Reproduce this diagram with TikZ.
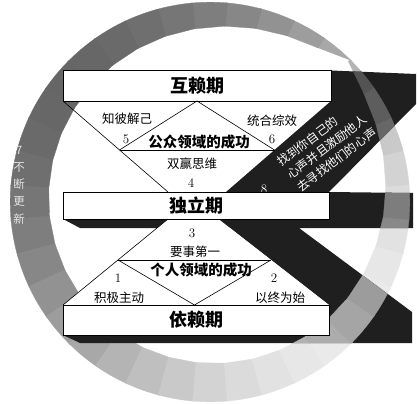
\documentclass[tikz,border=0pt]{standalone}
\usepackage{fontspec}
\newfontfamily\cjk{Noto Sans CJK SC}
\begin{document}
\begin{tikzpicture}[x=1pt,y=1pt,
  box/.style={draw=black, line width=0.8pt, fill=white, inner sep=0pt},
  thinline/.style={draw=black, line width=0.6pt},
  darkfill/.style={fill=black!88},
  lab/.style={font=\cjk\fontsize{12.5}{14}\selectfont, inner sep=0pt},
  num/.style={font=\fontsize{13}{14}\selectfont, inner sep=0pt},
  title/.style={font=\cjk\bfseries\fontsize{18}{20}\selectfont},
  dom/.style={font=\cjk\bfseries\fontsize{14.5}{16}\selectfont, inner sep=0pt},
]
\useasboundingbox (0,0) rectangle (418,-404);

% ---- ring (sharpen the saw): segments with listed greys ----
\begin{scope}[shift={(210,-202)}]
\foreach \a/\gv in {45/0.66,55/0.615,65/0.571,75/0.53,85/0.493,95/0.461,105/0.435,115/0.416,
  125/0.404,135/0.40,145/0.404,155/0.416,165/0.435,175/0.461,185/0.493,195/0.53,205/0.571,
  215/0.615,225/0.66,235/0.705,245/0.749,255/0.79,265/0.827,275/0.859,285/0.885,295/0.904,
  305/0.916,315/0.92,325/0.916,335/0.904,345/0.885,355/0.859,365/0.827,375/0.79,385/0.749,395/0.705} {
  \pgfmathsetmacro\ra{200-40*sqrt(abs(sin((\a-45)/2)))}
  \pgfmathsetmacro\rb{200-40*sqrt(abs(sin((\a-34.5)/2)))}
  \definecolor{ringc}{gray}{\gv}
  \fill[ringc, draw=ringc, line width=0.3pt] ({\a}:199.8) arc[start angle=\a, delta angle=10.5, radius=199.8]
    -- ({\a+10.5}:\rb) -- ({\a}:\ra) -- cycle;
}
\end{scope}

% ---- dark Z ribbon ----
\fill[darkfill] (331,-70.5) -- (416,-74) -- (416,-104) -- (329,-192) -- (226,-192) -- (331,-101) -- cycle;
\fill[darkfill] (63,-219) -- (329,-219) -- (329,-192) -- (413,-193) -- (413,-228) -- (299,-228)
  -- (412,-312) -- (412,-343) -- (80,-343) -- (63,-335) -- (329,-335) -- (329,-305)
  -- (230,-228) -- (80,-228) -- cycle;

% ring seen over the dark ribbon
\begin{scope}
\clip (331,-70.5) -- (416,-74) -- (416,-104) -- (329,-192) -- (226,-192) -- (331,-101) -- cycle
  (63,-219) -- (329,-219) -- (329,-192) -- (413,-193) -- (413,-228) -- (299,-228)
  -- (412,-312) -- (412,-343) -- (80,-343) -- (63,-335) -- (329,-335) -- (329,-305)
  -- (230,-228) -- (80,-228) -- cycle;
\begin{scope}[shift={(210,-202)}]
\foreach \a/\gv in {-75/0.71,-65/0.70,-55/0.675,-45/0.647,-35/0.613,-25/0.576,-15/0.535,-5/0.492,
  5/0.448,15/0.405,25/0.364,35/0.326,45/0.293,55/0.265,65/0.243,75/0.228,85/0.22} {
  \pgfmathsetmacro\ra{200-40*sqrt(abs(sin((\a-45)/2)))}
  \pgfmathsetmacro\rb{200-40*sqrt(abs(sin((\a-34.5)/2)))}
  \definecolor{ringd}{gray}{\gv}
  \fill[ringd, draw=ringd, line width=0.3pt] ({\a}:199.8) arc[start angle=\a, delta angle=10.5, radius=199.8]
    -- ({\a+10.5}:\rb) -- ({\a}:\ra) -- cycle;
}
\end{scope}
\end{scope}

% text on the ring and on the ribbon
\node[font=\cjk\fontsize{11.5}{17.3}\selectfont, text=white!90!black, align=center, inner sep=0pt]
  (renew) at (19,-185) {7\\不\\断\\更\\新};
\node[font=\cjk\fontsize{12}{16}\selectfont, text=white, align=left, rotate=37, inner sep=0pt]
  (voice) at (327,-147) {找到你自己的\\心声并且激励他人\\去寻找他们的心声};
\node[num, text=white] (n8) at (264,-189) {8};

% white lower region
\fill[white] (63,-305) -- (168,-219) -- (218.4,-219) -- (329,-305) -- cycle;

% ---- boxes ----
\node[box, title, minimum width=268pt, minimum height=31pt] (hu) at (197,-85.5) {互赖期};
\node[box, title, minimum width=266pt, minimum height=27pt] (du) at (196,-205.5) {独立期};
\node[box, title, minimum width=266pt, minimum height=30pt] (yi) at (196,-320) {依赖期};

% ---- inner lines: upper section ----
\coordinate (uL) at (63,-101);
\coordinate (uB) at (168,-192);
\coordinate (uA) at (197,-101);
\coordinate (uM) at (119.5,-150);
\coordinate (uR) at (274.5,-150);
\draw[thinline] (uL) -- (uB);
\draw[thinline] (uM) -- (uA) -- (uR);
\draw[thinline] (uM) -- (uR);

% ---- inner lines: lower section ----
\coordinate (lL) at (63,-305);
\coordinate (lT) at (168,-219);
\coordinate (lA) at (194.5,-305);
\coordinate (lM) at (118,-260);
\coordinate (lR) at (271,-260);
\draw[thinline] (lL) -- (lT);
\draw[thinline] (lM) -- (lA) -- (lR);
\draw[thinline] (lM) -- (lR);

% ---- labels ----
\node[lab] (t5) at (127,-119) {知彼解己};
\node[num] (n5) at (126,-139) {5};
\node[dom] (pub) at (199,-142) {公众领域的成功};
\node[num] (n6) at (272,-139) {6};
\node[lab] (t6) at (272,-121) {统合综效};
\node[lab] (t4) at (192,-164) {双赢思维};
\node[num] (n4) at (191,-183) {4};

\node[num] (n3) at (192,-233) {3};
\node[lab] (t3) at (195,-252) {要事第一};
\node[dom] (pri) at (201,-270) {个人领域的成功};
\node[num] (n1) at (118,-278) {1};
\node[lab] (t1) at (119,-298) {积极主动};
\node[num] (n2) at (274,-278) {2};
\node[lab] (t2) at (280,-298) {以终为始};
\end{tikzpicture}
\end{document}
